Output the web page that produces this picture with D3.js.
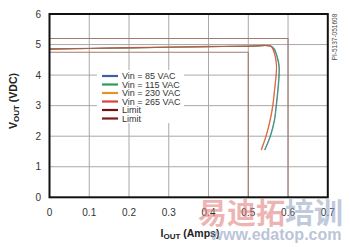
<!DOCTYPE html>
<html><head><meta charset="utf-8">
<script src="https://cdn.jsdelivr.net/npm/d3@7/dist/d3.min.js"></script>
<style>body{margin:0;background:#fff}svg{display:block}</style>
</head><body>
<script>
const xTicks = [0,0.1,0.2,0.3,0.4,0.5,0.6,0.7];
const yTicks = [0,1,2,3,4,5,6];
const seriesNames = ["Vin = 85 VAC","Vin = 115 VAC","Vin = 230 VAC","Vin = 265 VAC","Limit","Limit"];
const seriesColors = ["#3d5fa8","#2f9a5a","#e8902a","#d9413c","#6e1313","#7a1a1a"];
const vac85 = [[0,4.85],[0.1,4.87],[0.2,4.89],[0.3,4.91],[0.4,4.93],[0.5,4.94],[0.556,4.95],[0.565,4.85],[0.572,4.6],[0.577,4.3],[0.577,4.0],[0.574,3.5],[0.570,3.0],[0.565,2.5],[0.555,2.0],[0.541,1.55]];
const vac115 = [[0,4.85],[0.1,4.87],[0.2,4.89],[0.3,4.91],[0.4,4.93],[0.5,4.94],[0.557,4.95],[0.566,4.85],[0.573,4.6],[0.578,4.3],[0.578,4.0],[0.575,3.5],[0.571,3.0],[0.566,2.5],[0.556,2.0],[0.542,1.55]];
const vac230 = [[0,4.85],[0.1,4.87],[0.2,4.89],[0.3,4.91],[0.4,4.93],[0.5,4.94],[0.556,4.95],[0.562,4.85],[0.568,4.6],[0.571,4.3],[0.570,4.0],[0.566,3.5],[0.561,3.0],[0.554,2.5],[0.544,2.0],[0.532,1.55]];
const vac265 = [[0,4.86],[0.1,4.88],[0.2,4.9],[0.3,4.92],[0.4,4.94],[0.5,4.95],[0.555,4.95],[0.562,4.85],[0.568,4.6],[0.571,4.3],[0.570,4.0],[0.566,3.5],[0.562,3.0],[0.555,2.5],[0.545,2.0],[0.533,1.55]];
const limitLow = [[0,4.75],[0.5,4.75],[0.5,0]];
const limitHigh = [[0,5.2],[0.6,5.2],[0.6,0]];

const W=350,H=247;
const svg=d3.select("body").append("svg").attr("width",W).attr("height",H);
const x=d3.scaleLinear().domain([0,0.7]).range([49.5,327.8]);
const y=d3.scaleLinear().domain([0,6]).range([197.3,14]);

// grid
svg.append("g").selectAll("line").data(xTicks.slice(1,-1)).join("line")
  .attr("x1",d=>x(d)).attr("x2",d=>x(d)).attr("y1",y(0)).attr("y2",y(6))
  .attr("stroke","#a8a8a8").attr("stroke-width",1);
svg.append("g").selectAll("line").data(yTicks.slice(1,-1)).join("line")
  .attr("x1",x(0)).attr("x2",x(0.7)).attr("y1",d=>y(d)).attr("y2",d=>y(d))
  .attr("stroke","#a8a8a8").attr("stroke-width",1);

const line=d3.line().x(d=>x(d[0])).y(d=>y(d[1]));
const limCol="#a27a72";
svg.append("path").datum(limitHigh).attr("d",line).attr("fill","none").attr("stroke",limCol).attr("stroke-width",1.1);
svg.append("path").datum(limitLow).attr("d",line).attr("fill","none").attr("stroke",limCol).attr("stroke-width",1.1);

const flat=d3.line().x(d=>x(d[0])).y(d=>y(d[1])).curve(d3.curveCatmullRom);
[[vac85,0],[vac230,2],[vac115,1],[vac265,3]].forEach(([data,i])=>{
  svg.append("path").datum(data).attr("d",flat).attr("fill","none")
    .attr("stroke",seriesColors[i]).attr("stroke-width",1.1).attr("opacity",0.75);
});

// legend box
svg.append("rect").attr("x",97).attr("y",70).attr("width",87).attr("height",53).attr("fill","#fff");
const lg=svg.append("g");
seriesNames.forEach((n,i)=>{
  const yy=76+i*8.5;
  lg.append("line").attr("x1",102).attr("x2",118).attr("y1",yy).attr("y2",yy)
    .attr("stroke",seriesColors[i]).attr("stroke-width",2.2);
  lg.append("text").attr("x",122).attr("y",yy+3.2).text(n)
    .attr("font-family","Liberation Sans, Arial, sans-serif").attr("font-size",9).attr("fill","#333");
});

// frame
svg.append("rect").attr("x",x(0)).attr("y",y(6)).attr("width",x(0.7)-x(0)).attr("height",y(0)-y(6))
  .attr("fill","none").attr("stroke","#111").attr("stroke-width",2);

// tick labels
const tf="Liberation Sans, Arial, sans-serif";
svg.append("g").selectAll("text").data(yTicks).join("text")
  .attr("x",41).attr("y",d=>y(d)+3.5).attr("text-anchor","end").text(d=>d)
  .attr("font-family",tf).attr("font-size",10).attr("fill","#333");
svg.append("g").selectAll("text").data(xTicks).join("text")
  .attr("x",d=>x(d)).attr("y",216).attr("text-anchor","middle").text(d=>d)
  .attr("font-family",tf).attr("font-size",10).attr("fill","#333");

// axis titles
const xt=svg.append("text").attr("x",190).attr("y",237).attr("text-anchor","middle")
  .attr("font-family",tf).attr("font-size",10.5).attr("font-weight","bold").attr("fill","#222");
xt.append("tspan").text("I");
xt.append("tspan").text("OUT").attr("font-size",8).attr("dy",2);
xt.append("tspan").text(" (Amps)").attr("dy",-2);
const yt=svg.append("text").attr("transform","translate(17,101) rotate(-90)").attr("text-anchor","middle")
  .attr("font-family",tf).attr("font-size",10.5).attr("font-weight","bold").attr("fill","#222");
yt.append("tspan").text("V");
yt.append("tspan").text("OUT").attr("font-size",8).attr("dy",2);
yt.append("tspan").text(" (VDC)").attr("dy",-2);

svg.append("text").attr("transform","translate(337,37) rotate(-90)").attr("text-anchor","middle")
  .attr("font-family",tf).attr("font-size",6.5).attr("fill","#444").text("PI-5137-051608");

// watermark
const wm=svg.append("text").attr("x",198).attr("y",224).attr("font-family","Noto Sans CJK SC, sans-serif")
  .attr("font-size",29).attr("font-weight","bold").attr("opacity",0.55);
wm.append("tspan").text("易迪拓").attr("fill","#e07878");
wm.append("tspan").text("培训").attr("fill","#8fa0bf");
svg.append("text").attr("x",276).attr("y",240).attr("text-anchor","middle").attr("font-family",tf)
  .attr("font-size",16).attr("font-weight","bold").attr("fill","#8fa0bf").attr("opacity",0.6).text("www.edatop.com");
</script>
</body></html>
